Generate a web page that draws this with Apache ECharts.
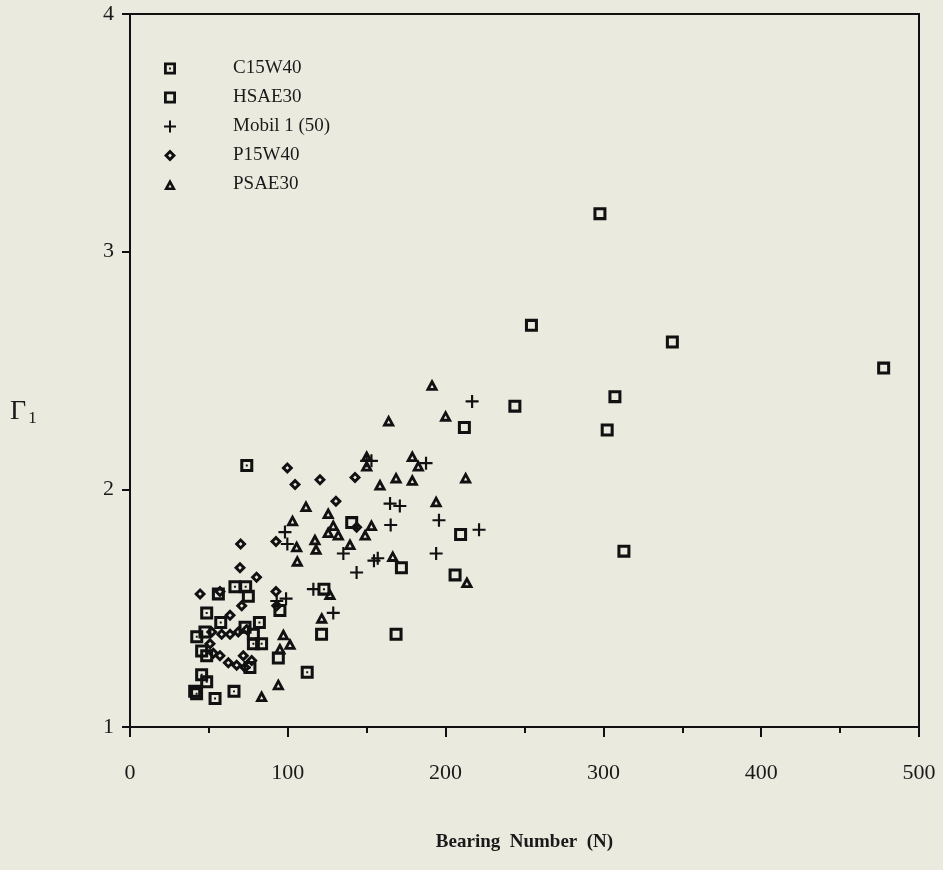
<!DOCTYPE html>
<html>
<head>
<meta charset="utf-8">
<script src="https://cdn.jsdelivr.net/npm/echarts@6/dist/echarts.min.js"></script>
<style>
  html, body { margin: 0; padding: 0; background: #ebeadf; }
  #chart { width: 943px; height: 870px; }
</style>
</head>
<body>
<div id="chart"></div>
<script>
// data: [bearing number, gamma1]
const c15w40 = [
  [74, 2.10], [66.5, 1.59], [73.3, 1.59], [56, 1.56], [48.6, 1.48], [57.5, 1.44],
  [82, 1.44], [83.4, 1.35], [112.3, 1.23], [42.3, 1.38], [42.2, 1.14], [48.6, 1.19],
  [53.9, 1.12], [65.9, 1.15], [122.9, 1.58], [76, 1.25], [45.4, 1.22], [78.2, 1.35]
]
const hsae30 = [
  [297.8, 3.16], [254.4, 2.69], [343.7, 2.62], [477.6, 2.51], [243.9, 2.35], [307.3, 2.39],
  [211.9, 2.26], [302.4, 2.25], [313, 1.74], [209.5, 1.81], [206, 1.64], [172, 1.67],
  [168.6, 1.39], [121.4, 1.39], [140.5, 1.86], [75, 1.55], [72.9, 1.42], [95, 1.49],
  [94, 1.29], [78.2, 1.39], [47.5, 1.40], [45.4, 1.32], [48.6, 1.30], [41, 1.15]
]
const mobil1 = [
  [216.8, 2.37], [187.6, 2.11], [153, 2.12], [164.8, 1.94], [171, 1.93], [195.8, 1.87],
  [165.2, 1.85], [221.2, 1.83], [194, 1.73], [154.6, 1.70], [143.6, 1.65], [135.2, 1.73],
  [98.2, 1.82], [99.7, 1.77], [116.2, 1.58], [128.8, 1.48], [98.9, 1.54], [93, 1.53],
  [150, 2.12], [157, 1.71]
]
const p15w40 = [
  [99.7, 2.09], [104.6, 2.02], [120.4, 2.04], [142.6, 2.05], [130.5, 1.95], [143.6, 1.84],
  [92.5, 1.78], [70.1, 1.77], [69.7, 1.67], [80.2, 1.63], [70.8, 1.51], [44.4, 1.56],
  [92.5, 1.57], [57, 1.57], [63.4, 1.47], [51.8, 1.40], [58.1, 1.39], [63.4, 1.39],
  [68.6, 1.40], [74, 1.41], [50.7, 1.35], [52.8, 1.31], [57, 1.30], [62.3, 1.27],
  [67.6, 1.26], [72.9, 1.25], [77.1, 1.28], [71.8, 1.30], [93, 1.51]
]
const psae30 = [
  [191.4, 2.44], [163.9, 2.29], [200, 2.31], [178.9, 2.14], [182.7, 2.10], [178.9, 2.04],
  [168.6, 2.05], [158.4, 2.02], [212.7, 2.05], [150, 2.14], [150, 2.10], [194, 1.95],
  [153, 1.85], [166.5, 1.72], [111.5, 1.93], [103, 1.87], [125.6, 1.90], [128.8, 1.85],
  [125.6, 1.82], [132, 1.81], [139.4, 1.77], [149, 1.81], [105.6, 1.76], [106, 1.70],
  [117.2, 1.79], [117.9, 1.75], [126.7, 1.56], [121.5, 1.46], [97.2, 1.39], [101.4, 1.35],
  [95, 1.33], [83.4, 1.13], [94, 1.18], [213.5, 1.61]
]
const seriesNames = ['C15W40', 'HSAE30', 'Mobil 1 (50)', 'P15W40', 'PSAE30']

// marker shapes (holes wound the other way so they stay open)
const symSquareDot = 'path://M0,0 L12,0 L12,12 L0,12 Z M2.8,2.8 L2.8,9.2 L9.2,9.2 L9.2,2.8 Z M5.1,5.1 L6.9,5.1 L6.9,6.9 L5.1,6.9 Z'
const symSquare = 'path://M0,0 L12,0 L12,12 L0,12 Z M2.8,2.8 L2.8,9.2 L9.2,9.2 L9.2,2.8 Z'
const symPlus = 'path://M5,0 L7,0 L7,5 L12,5 L12,7 L7,7 L7,12 L5,12 L5,7 L0,7 L0,5 L5,5 Z'
const symDiamond = 'path://M6,0 L12,6 L6,12 L0,6 Z M6,4.1 L4.1,6 L6,7.9 L7.9,6 Z'
const symTriangle = 'path://M6,0 L12,11 L0,11 Z M6,5.4 L4.4,8.4 L7.6,8.4 Z'

const ink = '#111'
const serif = "'Liberation Serif', 'DejaVu Serif', serif"

const chart = echarts.init(document.getElementById('chart'))

const makeSeries = (name, data, symbol, size) => ({
  name: name,
  type: 'scatter',
  data: data,
  symbol: symbol,
  symbolSize: size,
  itemStyle: { color: ink, opacity: 1 },
  emphasis: { disabled: true }
})

const option = {
  backgroundColor: '#ebeadf',
  animation: false,
  grid: {
    left: 130,
    right: 24,
    top: 14,
    bottom: 143,
    show: true,
    borderColor: ink,
    borderWidth: 2,
    backgroundColor: 'transparent'
  },
  legend: {
    orient: 'vertical',
    left: 159,
    top: 54,
    itemWidth: 12,
    itemHeight: 12,
    itemGap: 10,
    data: [
      { name: seriesNames[0], icon: symSquareDot },
      { name: seriesNames[1], icon: symSquare },
      { name: seriesNames[2], icon: symPlus },
      { name: seriesNames[3], icon: symDiamond },
      { name: seriesNames[4], icon: symTriangle }
    ],
    textStyle: {
      fontFamily: serif,
      fontSize: 19,
      color: '#1a1a1a',
      padding: [0, 0, 0, 52]
    },
    selectedMode: false
  },
  graphic: [
    {
      type: 'text',
      left: 10,
      top: 398,
      style: {
        text: '{g|Γ}{s|1}',
        rich: {
          g: { fontFamily: serif, fontSize: 28, fill: '#1a1a1a' },
          s: { fontFamily: serif, fontSize: 17, fill: '#1a1a1a', padding: [14, 0, 0, 2] }
        }
      }
    }
  ],
  xAxis: {
    type: 'value',
    min: 0,
    max: 500,
    interval: 100,
    name: 'Bearing  Number  (N)',
    nameLocation: 'middle',
    nameGap: 106,
    nameTextStyle: {
      fontFamily: serif,
      fontSize: 19,
      fontWeight: 'bold',
      color: '#1a1a1a'
    },
    axisLine: { show: true, lineStyle: { color: ink, width: 2 } },
    axisTick: { show: true, inside: false, length: 10, lineStyle: { color: ink, width: 2 } },
    minorTick: { show: true, splitNumber: 2, length: 6, lineStyle: { color: ink, width: 2 } },
    axisLabel: { fontFamily: serif, fontSize: 22, color: '#1a1a1a', margin: 35 },
    splitLine: { show: false }
  },
  yAxis: {
    type: 'value',
    min: 1,
    max: 4,
    interval: 1,
    axisLine: { show: true, lineStyle: { color: ink, width: 2 } },
    axisTick: { show: true, inside: false, length: 8, lineStyle: { color: ink, width: 2 } },
    axisLabel: { fontFamily: serif, fontSize: 22, color: '#1a1a1a', margin: 16 },
    splitLine: { show: false }
  },
  series: [
    makeSeries(seriesNames[0], c15w40, symSquareDot, 13),
    makeSeries(seriesNames[1], hsae30, symSquare, 13),
    makeSeries(seriesNames[2], mobil1, symPlus, 13),
    makeSeries(seriesNames[3], p15w40, symDiamond, 12),
    makeSeries(seriesNames[4], psae30, symTriangle, [13, 12])
  ]
}

chart.setOption(option)
</script>
</body>
</html>
